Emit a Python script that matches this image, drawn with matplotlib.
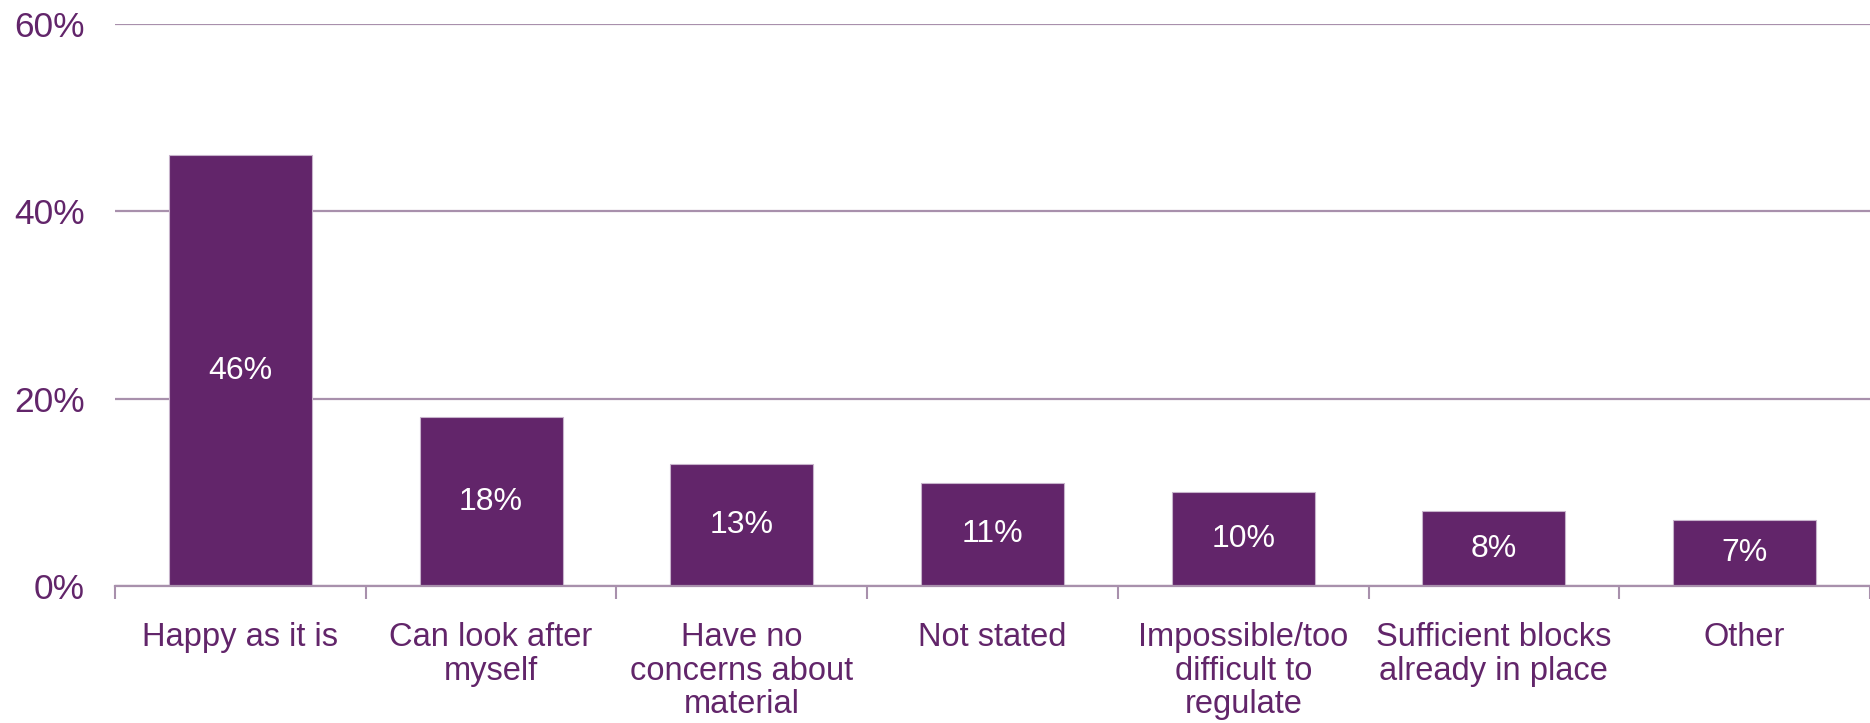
import matplotlib.pyplot as plt
import numpy as np
from matplotlib.ticker import FuncFormatter, FixedLocator

plt.rcParams['font.family'] = ['Liberation Sans', 'DejaVu Sans']

categories = ["Happy as it is", "Can look after\nmyself", "Have no\nconcerns about\nmaterial",
              "Not stated", "Impossible/too\ndifficult to\nregulate",
              "Sufficient blocks\nalready in place", "Other"]
values = [46, 18, 13, 11, 10, 8, 7]
data_labels = ["46%", "18%", "13%", "11%", "10%", "8%", "7%"]
yticks = [0, 20, 40, 60]

purple = '#62256A'
grid_col = '#A890AC'

fig = plt.figure(figsize=(18.7, 7.23), dpi=100)
ax = fig.add_axes([115/1870, 137/723, 1 - 115/1870, (586-24)/723])

x = np.arange(len(categories))
bars = ax.bar(x, values, width=0.57, color=purple, edgecolor='#C7B3CB', linewidth=0.8, zorder=3)

# labels in the middle of each bar
for b, lab in zip(bars, data_labels):
    ax.text(b.get_x() + b.get_width()/2, b.get_height()/2, lab, ha='center', va='center',
            color='white', fontsize=23, zorder=4)

ax.set_xlim(-0.5, len(categories) - 0.5)
ax.set_ylim(0, 60)
ax.set_yticks(yticks)
ax.yaxis.set_major_formatter(FuncFormatter(lambda v, p: f"{v:.0f}%"))
ax.yaxis.grid(True, color=grid_col, linewidth=1.6, zorder=0)
ax.tick_params(axis='y', length=0, pad=22, labelsize=25.5, labelcolor=purple)

ax.set_xticks(x)
ax.set_xticklabels(categories, fontsize=23.5, color=purple, linespacing=1.1, va='top')
ax.tick_params(axis='x', which='major', length=0, pad=26)
ax.xaxis.set_minor_locator(FixedLocator(np.arange(-0.5, len(categories), 1.0)))
ax.tick_params(axis='x', which='minor', length=9, width=1.5, color=grid_col)

for s in ['top', 'right', 'left']:
    ax.spines[s].set_visible(False)
ax.spines['bottom'].set_color(grid_col)
ax.spines['bottom'].set_linewidth(1.6)
ax.spines['bottom'].set_zorder(5)

fig.savefig('out.png', dpi=100)
